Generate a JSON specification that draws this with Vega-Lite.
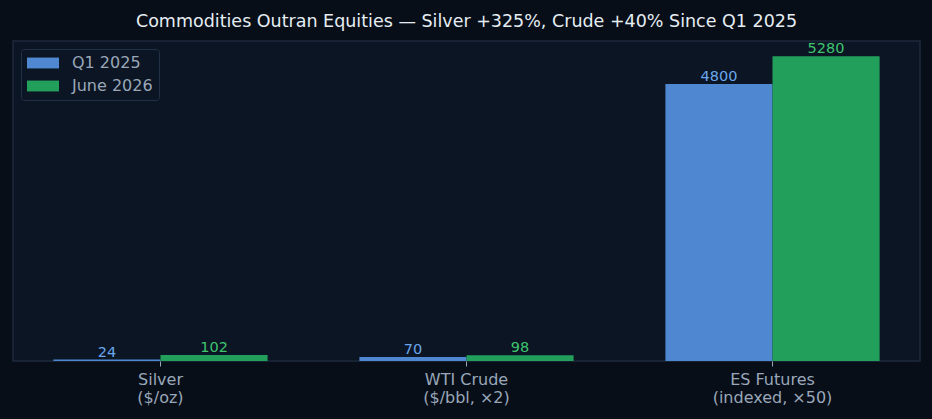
{
  "$schema": "https://vega.github.io/schema/vega-lite/v6.json",
  "autosize": {"type": "none"},
  "width": 907,
  "height": 320,
  "padding": {"left": 13, "top": 41, "right": 12, "bottom": 58},
  "background": "#070e18",
  "title": {
    "text": "Commodities Outran Equities — Silver +325%, Crude +40% Since Q1 2025",
    "font": "DejaVu Sans",
    "fontSize": 17.5,
    "fontWeight": "normal",
    "color": "#e6edf3",
    "anchor": "middle",
    "offset": 11
  },
  "config": {
    "view": {"fill": "#0b1524", "stroke": "#1e2a3d", "strokeWidth": 1.5},
    "font": "DejaVu Sans"
  },
  "data": {
    "values": [
      {"cat": "Silver|($/oz)", "period": "Q1 2025", "value": 24},
      {"cat": "Silver|($/oz)", "period": "June 2026", "value": 102},
      {"cat": "WTI Crude|($/bbl, ×2)", "period": "Q1 2025", "value": 70},
      {"cat": "WTI Crude|($/bbl, ×2)", "period": "June 2026", "value": 98},
      {"cat": "ES Futures|(indexed, ×50)", "period": "Q1 2025", "value": 4800},
      {"cat": "ES Futures|(indexed, ×50)", "period": "June 2026", "value": 5280}
    ]
  },
  "encoding": {
    "x": {
      "field": "cat",
      "type": "nominal",
      "sort": null,
      "scale": {"paddingInner": 0.3, "paddingOuter": 0.132},
      "axis": {
        "title": null,
        "labelAngle": 0,
        "labelExpr": "split(datum.label, '|')",
        "labelFontSize": 16,
        "labelColor": "#9aa7b8",
        "labelLineHeight": 18,
        "labelPadding": 5,
        "tickColor": "#9aa7b8",
        "tickSize": 5,
        "domain": false,
        "grid": false
      }
    },
    "xOffset": {
      "field": "period",
      "type": "nominal",
      "sort": ["Q1 2025", "June 2026"],
      "scale": {"paddingInner": 0, "paddingOuter": 0}
    },
    "y": {
      "field": "value",
      "type": "quantitative",
      "stack": null,
      "scale": {"domain": [0, 5544], "nice": false, "zero": true},
      "axis": null
    }
  },
  "layer": [
    {
      "mark": {"type": "bar"},
      "encoding": {
        "color": {
          "field": "period",
          "type": "nominal",
          "sort": ["Q1 2025", "June 2026"],
          "scale": {"domain": ["Q1 2025", "June 2026"], "range": ["#4f88d0", "#22a05b"]},
          "legend": {
            "title": null,
            "orient": "top-left",
            "offset": 8,
            "fillColor": "#0b1524",
            "strokeColor": "#223047",
            "cornerRadius": 3,
            "padding": 6,
            "labelFontSize": 16,
            "labelColor": "#9aa7b8",
            "labelOffset": 21,
            "rowPadding": 7,
            "symbolType": "M-2,-0.68H2V0.68H-2Z",
            "symbolSize": 256,
            "symbolOffset": 8,
            "symbolStrokeWidth": 0,
            "symbolOpacity": 1
          }
        }
      }
    },
    {
      "mark": {"type": "text", "baseline": "bottom", "dy": 0, "fontSize": 14.5},
      "encoding": {
        "text": {"field": "value", "type": "quantitative"},
        "color": {
          "condition": {"test": "datum.period === 'Q1 2025'", "value": "#6aa6ec"},
          "value": "#3ec46e"
        }
      }
    }
  ]
}
